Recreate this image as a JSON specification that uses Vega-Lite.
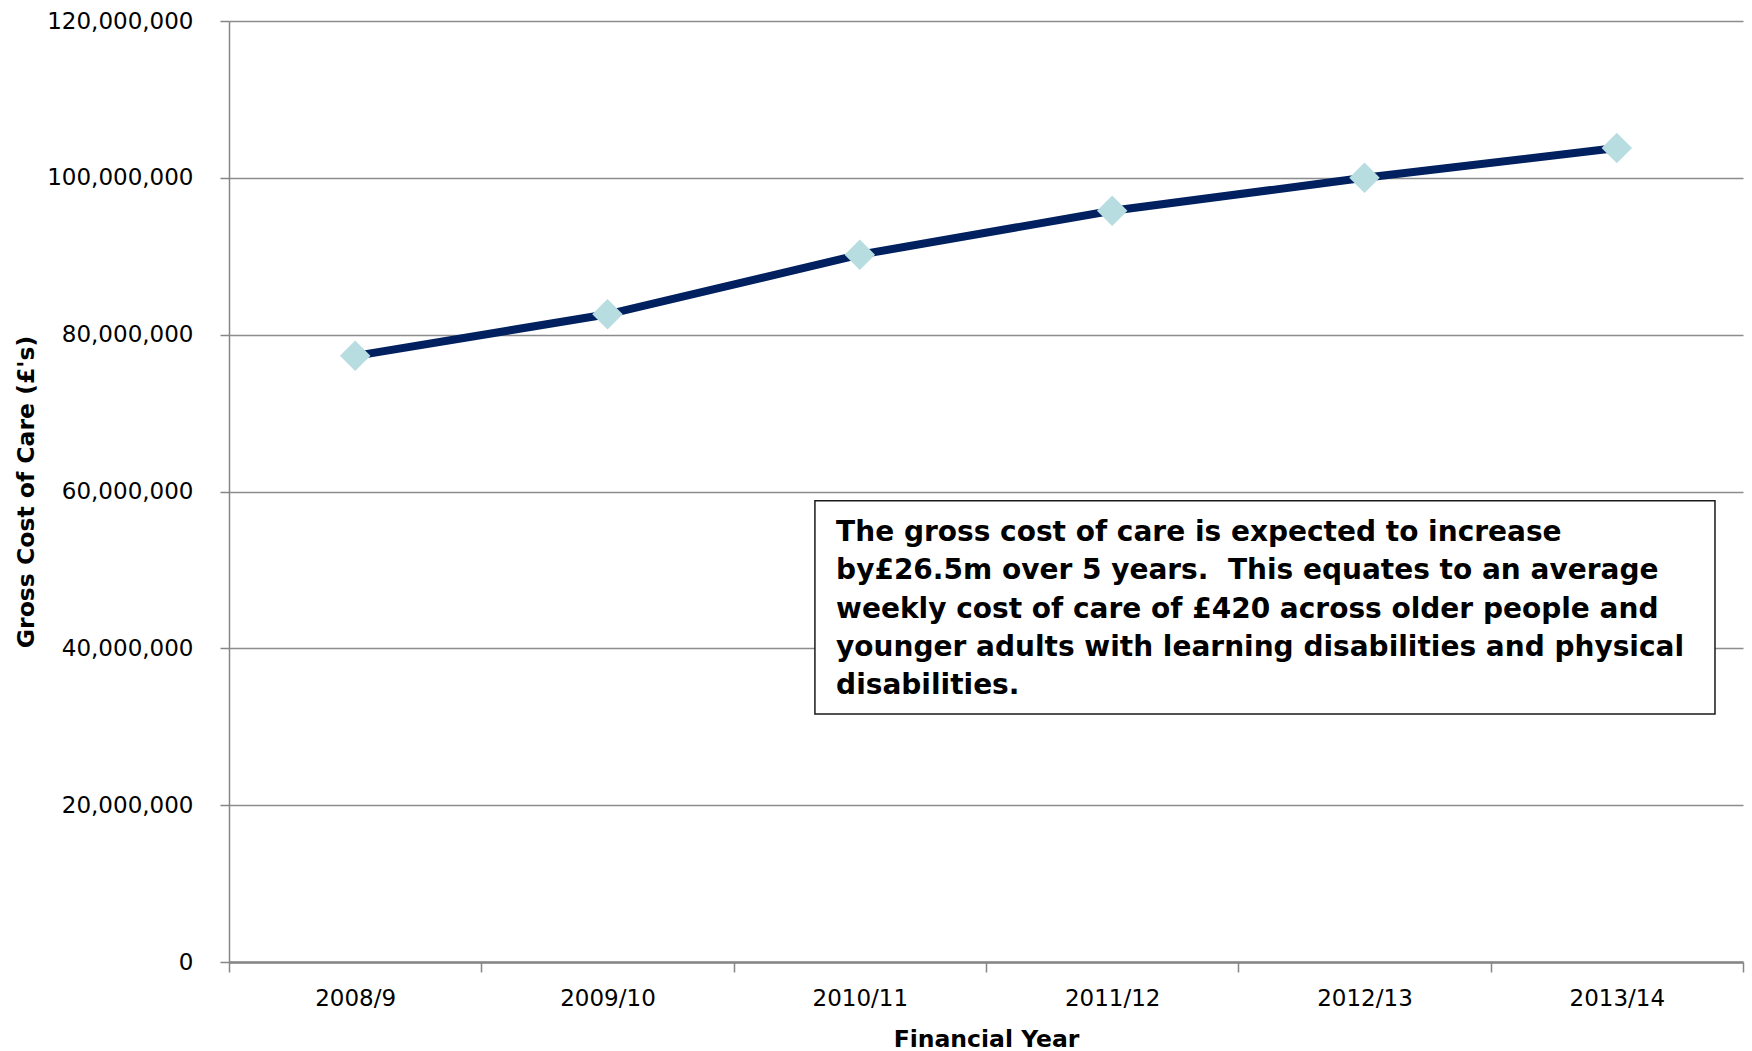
{
  "$schema": "https://vega.github.io/schema/vega-lite/v6.json",
  "width": 1514,
  "height": 941,
  "autosize": {"type": "none"},
  "padding": {"left": 229, "top": 21, "right": 9, "bottom": 89},
  "background": "white",
  "config": {
    "view": {"stroke": null},
    "font": "DejaVu Sans",
    "axis": {
      "labelFont": "DejaVu Sans",
      "titleFont": "DejaVu Sans",
      "labelColor": "#000000",
      "titleColor": "#000000",
      "domainColor": "#868686",
      "tickColor": "#868686",
      "gridColor": "#8c8c8c"
    },
    "axisY": {
      "labelFontSize": 23,
      "titleFontSize": 23.5,
      "titleFontWeight": "bold",
      "domainWidth": 1.5,
      "tickSize": 9,
      "tickWidth": 1.5,
      "gridWidth": 1.6,
      "labelPadding": 27,
      "titlePadding": 8
    },
    "axisX": {
      "labelFontSize": 23,
      "titleFontSize": 23.5,
      "titleFontWeight": "bold",
      "domainWidth": 2.5,
      "tickSize": 10,
      "tickWidth": 1.5,
      "labelPadding": 15,
      "titlePadding": 17,
      "labelAngle": 0,
      "grid": false
    }
  },
  "datasets": {
    "cost": [
      {"year": "2008/9", "cost": 77300000},
      {"year": "2009/10", "cost": 82600000},
      {"year": "2010/11", "cost": 90200000},
      {"year": "2011/12", "cost": 95800000},
      {"year": "2012/13", "cost": 100000000},
      {"year": "2013/14", "cost": 103800000}
    ],
    "note": [
      {
        "x": 2.322,
        "x2": 5.889,
        "top": 58820000,
        "bottom": 31620000,
        "tx": 2.406,
        "ty": 53720000,
        "label": "The gross cost of care is expected to increase\nby£26.5m over 5 years.\u00a0 This equates to an average\nweekly cost of care of £420 across older people and\nyounger adults with learning disabilities and physical\ndisabilities."
      }
    ]
  },
  "layer": [
    {
      "data": {"name": "cost"},
      "encoding": {
        "x": {
          "field": "year",
          "type": "nominal",
          "sort": null,
          "scale": {"type": "band", "paddingInner": 0, "paddingOuter": 0},
          "axis": {"title": "Financial Year", "tickBand": "extent"}
        },
        "y": {
          "field": "cost",
          "type": "quantitative",
          "scale": {"domain": [0, 120000000], "nice": false},
          "axis": {
            "title": "Gross Cost of Care (£'s)",
            "values": [0, 20000000, 40000000, 60000000, 80000000, 100000000, 120000000],
            "format": ",.0f",
            "grid": true
          }
        }
      },
      "layer": [
        {"mark": {"type": "line", "color": "#002060", "strokeWidth": 8}},
        {"mark": {"type": "point", "shape": "diamond", "size": 930, "filled": true, "fill": "#b7dde0", "stroke": null, "opacity": 1}}
      ]
    },
    {
      "data": {"name": "note"},
      "layer": [
        {
          "mark": {"type": "rect", "fill": "white", "stroke": "#1a1a1a", "strokeWidth": 1.5},
          "encoding": {
            "x": {"field": "x", "type": "quantitative", "scale": {"domain": [0, 6], "nice": false, "zero": false}, "axis": null},
            "x2": {"field": "x2"},
            "y": {
              "field": "top",
              "type": "quantitative",
              "axis": {
                "title": "Gross Cost of Care (£'s)",
                "values": [0, 20000000, 40000000, 60000000, 80000000, 100000000, 120000000],
                "format": ",.0f",
                "grid": true
              }
            },
            "y2": {"field": "bottom"}
          }
        },
        {
          "mark": {"type": "text", "align": "left", "baseline": "alphabetic", "fontSize": 28, "fontWeight": "bold", "lineBreak": "\n", "lineHeight": 38.4, "color": "#000000", "font": "DejaVu Sans"},
          "encoding": {
            "x": {"field": "tx", "type": "quantitative", "scale": {"domain": [0, 6], "nice": false, "zero": false}, "axis": null},
            "y": {
              "field": "ty",
              "type": "quantitative",
              "axis": {
                "title": "Gross Cost of Care (£'s)",
                "values": [0, 20000000, 40000000, 60000000, 80000000, 100000000, 120000000],
                "format": ",.0f",
                "grid": true
              }
            },
            "text": {"field": "label", "type": "nominal"}
          }
        }
      ]
    }
  ],
  "resolve": {"scale": {"x": "independent"}, "axis": {"x": "independent"}}
}
